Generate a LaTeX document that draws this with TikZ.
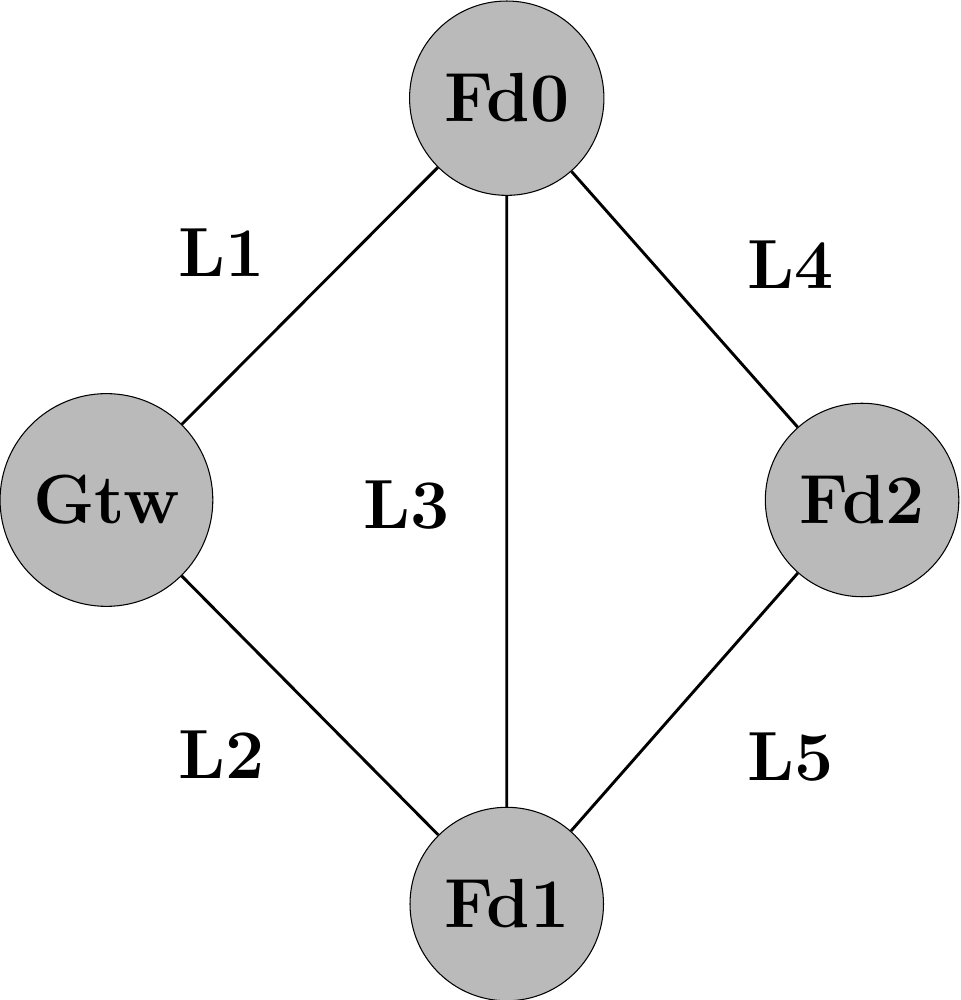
\documentclass[tikz,border=0pt]{standalone}
\usepackage{tikz}
\usetikzlibrary{positioning}
\usepackage{xcolor}
\definecolor{agray}{gray}{0.73}

\begin{document}
\begin{tikzpicture}[
every node/.style={font=\fontsize{26.4}{30}\selectfont\bfseries},
site/.style={draw,circle,fill=agray,inner sep=8.5pt,line width=0.4pt},
link/.style={draw,line width=1.1pt}]
\useasboundingbox (0,0) rectangle (12.81,13.34);
\node[site] (fd0) at (6.76,12.03) {Fd0};
\node[site] (gtw) at (1.42,6.67) {Gtw};
\node[site] (fd2) at (11.50,6.67) {Fd2};
\node[site] (fd1) at (6.76,1.28) {Fd1};
\path[link] (gtw) -- (fd0)
 (gtw) -- (fd1)
 (fd0) -- (fd1)
 (fd0) -- (fd2)
 (fd2) -- (fd1);
\node (l1) at (2.96,9.97) {L1};
\node (l2) at (2.96,3.27) {L2};
\node (l3) at (5.43,6.60) {L3};
\node (l4) at (10.54,9.81) {L4};
\node (l5) at (10.55,3.24) {L5};
\end{tikzpicture}
\end{document}
